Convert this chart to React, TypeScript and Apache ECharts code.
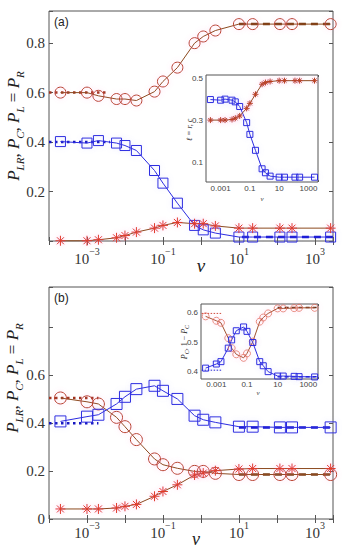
import React, { useEffect, useRef } from 'react';
import * as echarts from 'echarts';

// ν values (shared by every series)
const NU = [2e-4, 1e-3, 2e-3, 6e-3, 1e-2, 2e-2, 6e-2, 0.1, 0.24, 0.68, 1.15, 2.4, 10, 23, 120, 250, 2600];

// Panel (a) main
const A_CIRCLE = [0.600, 0.600, 0.587, 0.574, 0.574, 0.568, 0.604, 0.645, 0.701, 0.800, 0.827, 0.851, 0.877, 0.877, 0.877, 0.877, 0.877];
const A_SQUARE = [0.402, 0.396, 0.406, 0.396, 0.386, 0.366, 0.285, 0.234, 0.153, 0.063, 0.045, 0.032, 0.016, 0.016, 0.016, 0.016, 0.016];
const A_STAR = [0.001, 0.001, 0.005, 0.013, 0.022, 0.036, 0.052, 0.063, 0.075, 0.070, 0.070, 0.061, 0.052, 0.052, 0.052, 0.052, 0.052];
// Panel (a) inset
const IA_SQUARE = [0.398, 0.395, 0.400, 0.395, 0.387, 0.365, 0.288, 0.232, 0.156, 0.068, 0.049, 0.033, 0.028, 0.028, 0.028, 0.028, 0.028];
const IA_STAR = [0.300, 0.300, 0.300, 0.303, 0.309, 0.320, 0.356, 0.380, 0.423, 0.471, 0.479, 0.484, 0.488, 0.488, 0.488, 0.488, 0.488];
// Panel (b) main
const B_CIRCLE = [0.506, 0.490, 0.481, 0.425, 0.386, 0.332, 0.251, 0.227, 0.212, 0.199, 0.199, 0.191, 0.186, 0.186, 0.186, 0.186, 0.186];
const B_SQUARE = [0.408, 0.428, 0.436, 0.481, 0.511, 0.543, 0.557, 0.536, 0.502, 0.432, 0.415, 0.404, 0.386, 0.386, 0.383, 0.383, 0.383];
const B_STAR = [0.042, 0.042, 0.042, 0.046, 0.053, 0.061, 0.095, 0.115, 0.143, 0.184, 0.192, 0.202, 0.209, 0.211, 0.211, 0.211, 0.211];
// Panel (b) inset
const IB_SQUARE = [0.412, 0.426, 0.434, 0.480, 0.508, 0.539, 0.552, 0.537, 0.499, 0.434, 0.420, 0.400, 0.385, 0.385, 0.384, 0.383, 0.382];
const IB_CIRCLE = [0.588, 0.573, 0.566, 0.514, 0.480, 0.459, 0.447, 0.462, 0.502, 0.570, 0.584, 0.598, 0.615, 0.615, 0.616, 0.617, 0.617];

// limiting values: [ν start, ν end, value]
const A_LOW_CIRCLE = [1e-4, 3.4e-3, 0.6];
const A_LOW_SQUARE = [1e-4, 4e-3, 0.4];
const A_HIGH_CIRCLE = [10, 3000, 0.877];
const A_HIGH_SQUARE = [12, 3000, 0.016];
const IA_LOW_STAR = [1.1e-4, 4e-3, 0.3];
const IA_LOW_SQUARE = [1.1e-4, 0.02, 0.4];
const IA_HIGH_STAR = [10, 4500, 0.488];
const IA_HIGH_SQUARE = [10, 4500, 0.028];
const B_LOW_CIRCLE = [1e-4, 2e-3, 0.506];
const B_LOW_SQUARE = [1e-4, 2e-3, 0.40];
const B_HIGH_CIRCLE = [10, 3000, 0.186];
const B_HIGH_SQUARE = [10, 3000, 0.383];
const IB_LOW_CIRCLE = [1.1e-4, 2.5e-3, 0.598];
const IB_LOW_SQUARE = [1.1e-4, 2.5e-3, 0.405];
const IB_HIGH_CIRCLE = [10, 4300, 0.618];
const IB_HIGH_SQUARE = [10, 4300, 0.383];

const SERIF = '"Liberation Serif", "DejaVu Serif", serif';
const SANS = '"Liberation Sans", Arial, sans-serif';

const RED = '#b8432c';
const BROWN = '#8c4a1e';
const BLUE = '#2a2ae0';
const STAR_RED = '#e03c28';
const HALO = 'rgba(255,120,200,0.4)';
const AXIS = '#555';
const STAR_PATH = 'path://M10,0L10,20M0,10L20,10M3,3L17,17M3,17L17,3';

function pts(ys: number[]) {
  return NU.map((x, i) => [x, ys[i]]);
}
function seg(s: number[]) {
  return [[s[0], s[2]], [s[1], s[2]]];
}

function markSeries(g: number, ys: number[], symbol: string, size: number, lineColor: string, markColor: string, halo = HALO) {
  return {
    type: 'line',
    xAxisIndex: 2 * g,
    yAxisIndex: 2 * g,
    data: pts(ys),
    symbol,
    symbolSize: size,
    showSymbol: true,
    showAllSymbol: true,
    clip: false,
    silent: true,
    z: 4,
    lineStyle: { color: lineColor, width: 1 },
    itemStyle: { color: 'transparent', borderColor: markColor, borderWidth: 1, shadowBlur: 5, shadowColor: halo },
    emphasis: { disabled: true },
  };
}
function refSeries(g: number, s: number[], color: string, type: any, width: number) {
  return {
    type: 'line',
    xAxisIndex: 2 * g,
    yAxisIndex: 2 * g,
    data: seg(s),
    symbol: 'none',
    silent: true,
    z: 3,
    lineStyle: { color, width, type },
    emphasis: { disabled: true },
  };
}

function isOddDecade(v: number) {
  const e = Math.round(Math.log10(v));
  if (Math.abs(Math.log10(v) - e) > 0.01) return null;
  if (((e % 2) + 2) % 2 !== 1) return null;
  return e;
}
function powLabel(v: number) {
  const e = isOddDecade(v);
  if (e === null) return '';
  return '{b|10}{s|' + (e < 0 ? '\u2212' + -e : '' + e) + '}';
}
function decLabel(v: number) {
  const e = isOddDecade(v);
  if (e === null) return '';
  const p = Math.pow(10, e);
  return p >= 1 ? String(Math.round(p)) : String(Number(p.toFixed(3)));
}

function xAxes(g: number, min: number, max: number, main: boolean, margin: number) {
  const base: any = {
    type: 'log',
    logBase: 10,
    gridIndex: g,
    min,
    max,
    interval: 1,
    axisLine: { show: false },
    splitLine: { show: false },
    minorTick: { show: false },
    axisTick: { inside: true, length: main ? 4 : 2, lineStyle: { color: AXIS, width: 1 } },
  };
  const label = main
    ? {
        margin,
        formatter: powLabel,
        color: '#333',
        rich: {
          b: { fontFamily: SERIF, fontSize: 15, lineHeight: 20, verticalAlign: 'bottom', color: '#333' },
          s: { fontFamily: SERIF, fontSize: 10, lineHeight: 20, verticalAlign: 'top', color: '#333' },
        },
      }
    : { margin, formatter: decLabel, fontFamily: SANS, fontSize: 8, color: '#444' };
  return [
    { ...base, position: 'bottom', axisLabel: label },
    { ...base, position: 'top', axisLabel: { show: false } },
  ];
}

function yAxes(g: number, min: number, max: number, main: boolean, labelOpt: any, tickOpt: any) {
  const base: any = {
    type: 'value',
    gridIndex: g,
    min,
    max,
    axisLine: { show: false },
    splitLine: { show: false },
    axisTick: { inside: true, length: main ? 4 : 2, lineStyle: { color: AXIS, width: 1 }, ...tickOpt },
  };
  const iv = labelOpt.interval ? { interval: labelOpt.interval } : {};
  return [
    { ...base, ...iv, position: 'left', axisLabel: labelOpt.label },
    { ...base, ...iv, position: 'right', axisLabel: { show: false } },
  ];
}

const subRich = (size: number, sub: number, lh: number, color: string) => ({
  i: { fontFamily: SERIF, fontStyle: 'italic', fontSize: size, lineHeight: lh, verticalAlign: 'top', fill: color, color },
  s: { fontFamily: SERIF, fontStyle: 'italic', fontSize: sub, lineHeight: lh, verticalAlign: 'bottom', fill: color, color },
  n: { fontFamily: SERIF, fontSize: size, lineHeight: lh, verticalAlign: 'top', fill: color, color },
});

export default function App() {
  const ref = useRef<HTMLDivElement>(null);
  useEffect(() => {
    if (!ref.current) return;
    const chart = echarts.init(ref.current, null, { renderer: 'svg' });
    const mainY = (showZero: boolean, maxLabel: number) => ({
      interval: 0.2,
      label: {
        margin: 4,
        fontFamily: SERIF,
        fontSize: 15,
        color: '#333',
        formatter: (v: number) => {
          const k = Math.round(v * 5);
          if (Math.abs(v * 5 - k) > 1e-6) return '';
          if (k === 0) return showZero ? '0' : '';
          if (v > maxLabel + 1e-6) return '';
          return v.toFixed(1);
        },
      },
    });
    const insetY = (vals: number[]) => ({
      label: { margin: 3, fontFamily: SANS, fontSize: 8, color: '#444', customValues: vals, formatter: (v: number) => v.toFixed(1) },
    });

    const yLabel = '{i|P}{s|LR}{n|, }{i|P}{s|C}{n|, }{i|P}{s|L}{n| = }{i|P}{s|R}';
    const insetBLabel = '{i|P}{s|C}{n|, 1 \u2212 }{i|P}{s|C}';

    const option: any = {
      animation: false,
      backgroundColor: '#fff',
      grid: [
        { left: 49, top: 11, width: 284, height: 230, show: true, borderColor: AXIS, borderWidth: 1, backgroundColor: 'transparent' },
        { left: 206, top: 75, width: 112, height: 107, show: true, borderColor: AXIS, borderWidth: 1, backgroundColor: '#fff', z: 5 },
        { left: 49, top: 287, width: 284, height: 232, show: true, borderColor: AXIS, borderWidth: 1, backgroundColor: 'transparent' },
        { left: 201, top: 304, width: 117, height: 75, show: true, borderColor: AXIS, borderWidth: 1, backgroundColor: '#fff', z: 5 },
      ],
      xAxis: [
        ...xAxes(0, 1e-4, 3000, true, 5),
        ...xAxes(1, 1e-4, 4500, false, 2),
        ...xAxes(2, 1e-4, 3000, true, 1.5),
        ...xAxes(3, 1e-4, 4300, false, 1),
      ],
      yAxis: [
        ...yAxes(0, 0, 0.93, true, mainY(false, 0.8), {}),
        ...yAxes(1, 0.005, 0.515, false, insetY([0.1, 0.3, 0.5]), { customValues: [0.1, 0.3, 0.5] }),
        ...yAxes(2, 0, 0.97, true, mainY(true, 0.6), {}),
        ...yAxes(3, 0.375, 0.63, false, insetY([0.4, 0.5, 0.6]), { customValues: [0.4, 0.5, 0.6] }),
      ],
      series: [
        // (a) main
        refSeries(0, A_LOW_CIRCLE, '#a0341f', [2.5, 3.5], 2.5),
        refSeries(0, A_LOW_SQUARE, '#1515c0', [2.5, 3.5], 2.5),
        refSeries(0, A_HIGH_CIRCLE, '#7a3a12', [7, 5], 2.5),
        refSeries(0, A_HIGH_SQUARE, '#1515d0', [7, 5], 2.5),
        markSeries(0, A_CIRCLE, 'circle', 11, BROWN, RED),
        markSeries(0, A_SQUARE, 'rect', 10, BLUE, BLUE, 'rgba(150,150,255,0.3)'),
        markSeries(0, A_STAR, STAR_PATH, 10, BROWN, STAR_RED),
        // (a) inset
        refSeries(1, IA_LOW_STAR, '#8c3a1a', [1.5, 2], 1.5),
        refSeries(1, IA_LOW_SQUARE, '#1515c0', [1.5, 2], 1.5),
        refSeries(1, IA_HIGH_STAR, '#7a3a12', [4, 3], 1.5),
        refSeries(1, IA_HIGH_SQUARE, '#1515d0', [4, 3], 1.5),
        { ...markSeries(1, IA_SQUARE, 'rect', 6, BLUE, BLUE, 'rgba(150,150,255,0.3)'), z: 7 },
        { ...markSeries(1, IA_STAR, STAR_PATH, 6, BROWN, '#b8401f'), z: 7 },
        // (b) main
        refSeries(2, B_LOW_CIRCLE, '#a0341f', [2.5, 3.5], 2.5),
        refSeries(2, B_LOW_SQUARE, '#1515c0', [2.5, 3.5], 2.5),
        refSeries(2, B_HIGH_CIRCLE, '#7a3a12', [7, 5], 2.5),
        refSeries(2, B_HIGH_SQUARE, '#1515d0', [7, 5], 2.5),
        markSeries(2, B_CIRCLE, 'circle', 12, BROWN, RED),
        markSeries(2, B_SQUARE, 'rect', 11, BLUE, BLUE, 'rgba(150,150,255,0.3)'),
        markSeries(2, B_STAR, STAR_PATH, 10, BROWN, STAR_RED),
        // (b) inset
        { ...refSeries(3, IB_LOW_CIRCLE, '#d04a3a', [1.5, 1.5], 1), z: 6 },
        { ...refSeries(3, IB_LOW_SQUARE, '#2020d0', [1.5, 1.5], 1), z: 6 },
        { ...refSeries(3, IB_HIGH_CIRCLE, '#5a2a10', [4, 3], 1.5), z: 6 },
        { ...refSeries(3, IB_HIGH_SQUARE, '#1515d0', [4, 3], 1.5), z: 6 },
        { ...markSeries(3, IB_CIRCLE, 'circle', 7, '#a0522d', 'rgba(225,110,90,0.75)'), z: 7 },
        { ...markSeries(3, IB_SQUARE, 'rect', 6, BLUE, BLUE, 'rgba(150,150,255,0.3)'), z: 7 },
      ],
      graphic: [
        { type: 'text', left: 54, top: 16, z: 20, style: { text: '(a)', font: '12px ' + SANS, fill: '#222' } },
        { type: 'text', left: 54, top: 292, z: 20, style: { text: '(b)', font: '12px ' + SANS, fill: '#222' } },
        {
          type: 'text', x: 15, y: 126, rotation: Math.PI / 2, z: 20,
          style: { text: yLabel, rich: subRich(17, 11, 21, '#222'), align: 'center', verticalAlign: 'middle' },
        },
        {
          type: 'text', x: 14, y: 378, rotation: Math.PI / 2, z: 20,
          style: { text: yLabel, rich: subRich(17, 11, 21, '#222'), align: 'center', verticalAlign: 'middle' },
        },
        { type: 'text', x: 201, y: 265, z: 20, style: { text: '\u03bd', font: 'italic 19px ' + SERIF, fill: '#222', align: 'center', verticalAlign: 'middle' } },
        { type: 'text', x: 196, y: 539, z: 20, style: { text: '\u03bd', font: 'italic 18px ' + SERIF, fill: '#222', align: 'center', verticalAlign: 'middle' } },
        {
          type: 'text', x: 189, y: 130, rotation: Math.PI / 2, z: 20,
          style: { text: '\u2113 = r, c', font: 'italic 8px ' + SERIF, fill: '#333', align: 'center', verticalAlign: 'middle' },
        },
        {
          type: 'text', x: 185, y: 342, rotation: Math.PI / 2, z: 20,
          style: { text: insetBLabel, rich: subRich(8, 6, 10, '#333'), align: 'center', verticalAlign: 'middle' },
        },
        { type: 'text', x: 262, y: 199, z: 20, style: { text: '\u03bd', font: 'italic 7px ' + SERIF, fill: '#444', align: 'center', verticalAlign: 'middle' } },
        { type: 'text', x: 258, y: 393, z: 20, style: { text: '\u03bd', font: 'italic 7px ' + SERIF, fill: '#444', align: 'center', verticalAlign: 'middle' } },
      ],
    };
    chart.setOption(option);
    return () => chart.dispose();
  }, []);
  return <div ref={ref} style={{ position: 'fixed', left: 0, top: 0, width: 343, height: 550 }} />;
}
